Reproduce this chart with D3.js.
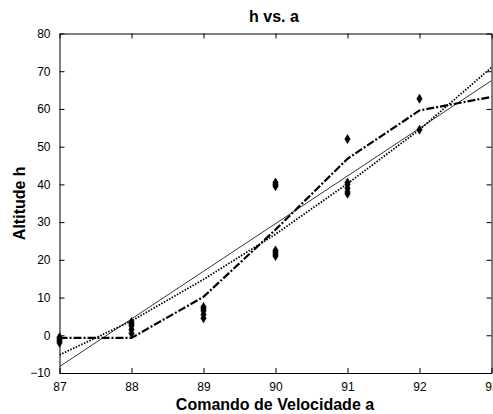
<!DOCTYPE html>
<html>
<head>
<meta charset="utf-8">
<script src="https://cdnjs.cloudflare.com/ajax/libs/d3/7.8.5/d3.min.js"></script>
<style>
  body { margin: 0; background: #fff; overflow: hidden; }
  text { font-family: "Liberation Sans", Arial, sans-serif; }
</style>
</head>
<body>
<div id="chart"></div>
<script>
// measured points (x = command, y = altitude)
let ptsX = [87, 87, 87, 87, 88, 88, 88, 88, 88, 89, 89, 89, 89, 89, 90, 90, 90, 90, 90, 90, 90, 91, 91, 91, 91, 91, 91, 92, 92];
let ptsY = [-0.5, -1, -1.5, -2, 0.5, 1.5, 2.5, 3, 3.5, 4.5, 5.5, 6.5, 7, 7.5, 39.5, 40, 40.5, 21, 21.5, 22, 22.5, 37.5, 38, 39, 40, 40.5, 52, 62.7, 54.5];

// dash-dot curve
let dashX = [87, 88, 89, 90, 91, 92, 93];
let dashY = [-0.7, -0.7, 10.2, 28, 46.8, 59.6, 63.2];

// dotted curve
let dotX = [87, 88, 89, 90, 91, 92, 93];
let dotY = [-5.2, 3.8, 14.8, 26.8, 40.2, 54.5, 71];

// thin straight line
let linX = [87, 93];
let linY = [-8.3, 67.5];

let xTicks = [87, 88, 89, 90, 91, 92, 93];
let yTicks = [-10, 0, 10, 20, 30, 40, 50, 60, 70, 80];

let width = 493, height = 414;
let margin = { top: 33.5, right: 1.5, bottom: 41, left: 59.5 };
let w = width - margin.left - margin.right;
let h = height - margin.top - margin.bottom;

let svg = d3.select("#chart").append("svg")
  .attr("width", width)
  .attr("height", height);

let g = svg.append("g")
  .attr("transform", `translate(${margin.left}, ${margin.top})`);

let x = d3.scaleLinear().domain([87, 93]).range([0, w]);
let y = d3.scaleLinear().domain([-10, 80]).range([h, 0]);

// clip for lines
svg.append("defs").append("clipPath").attr("id", "clip")
  .append("rect").attr("width", w).attr("height", h);

let plot = g.append("g").attr("clip-path", "url(#clip)");

let line = d3.line().x(d => x(d[0])).y(d => y(d[1]));

plot.append("path")
  .datum(linX.map((v, i) => [v, linY[i]]))
  .attr("d", line)
  .attr("fill", "none").attr("stroke", "#000").attr("stroke-width", 0.8);

plot.append("path")
  .datum(dotX.map((v, i) => [v, dotY[i]]))
  .attr("d", line)
  .attr("fill", "none").attr("stroke", "#000").attr("stroke-width", 1.8)
  .attr("stroke-dasharray", "1.5,1.5");

plot.append("path")
  .datum(dashX.map((v, i) => [v, dashY[i]]))
  .attr("d", line)
  .attr("fill", "none").attr("stroke", "#000").attr("stroke-width", 2.2)
  .attr("stroke-dasharray", "8,2,2,2");

g.selectAll(".pt")
  .data(ptsX.map((v, i) => [v, ptsY[i]]))
  .enter().append("path")
  .attr("class", "pt")
  .attr("transform", d => `translate(${x(d[0])}, ${y(d[1])})`)
  .attr("d", "M0,-4.5L2.7,0L0,4.5L-2.7,0Z")
  .attr("fill", "#000").attr("stroke", "#000").attr("stroke-width", 0.6);

// axes as a box with inward ticks
let xAxis = d3.axisBottom(x).tickValues(xTicks).tickFormat(d3.format("d"))
  .tickSizeInner(-5).tickSizeOuter(0).tickPadding(9);
let yAxis = d3.axisLeft(y).tickValues(yTicks).tickFormat(d3.format("d"))
  .tickSizeInner(-5).tickSizeOuter(0).tickPadding(9);

let gx = g.append("g").attr("transform", `translate(0, ${h})`).call(xAxis);
let gy = g.append("g").call(yAxis);
let gxt = g.append("g").call(d3.axisTop(x).tickValues(xTicks).tickSizeInner(-5).tickSizeOuter(0).tickFormat(""));
let gyr = g.append("g").attr("transform", `translate(${w}, 0)`)
  .call(d3.axisRight(y).tickValues(yTicks).tickSizeInner(-5).tickSizeOuter(0).tickFormat(""));

[gx, gy, gxt, gyr].forEach(a => {
  a.selectAll("path, line").attr("stroke", "#000").attr("stroke-width", 1);
  a.selectAll("text").attr("fill", "#000").style("font-size", "12px")
    .style("font-family", "'Liberation Sans', Arial, sans-serif");
});

// titles
svg.append("text")
  .attr("x", 274).attr("y", 22)
  .attr("text-anchor", "middle")
  .style("font-size", "16px").style("font-weight", "bold")
  .text("h vs. a");

svg.append("text")
  .attr("x", 275).attr("y", 410)
  .attr("text-anchor", "middle")
  .style("font-size", "16px").style("font-weight", "bold")
  .text("Comando de Velocidade a");

svg.append("text")
  .attr("transform", `translate(25, ${margin.top + h / 2}) rotate(-90)`)
  .attr("text-anchor", "middle")
  .style("font-size", "16px").style("font-weight", "bold")
  .text("Altitude h");
</script>
</body>
</html>
